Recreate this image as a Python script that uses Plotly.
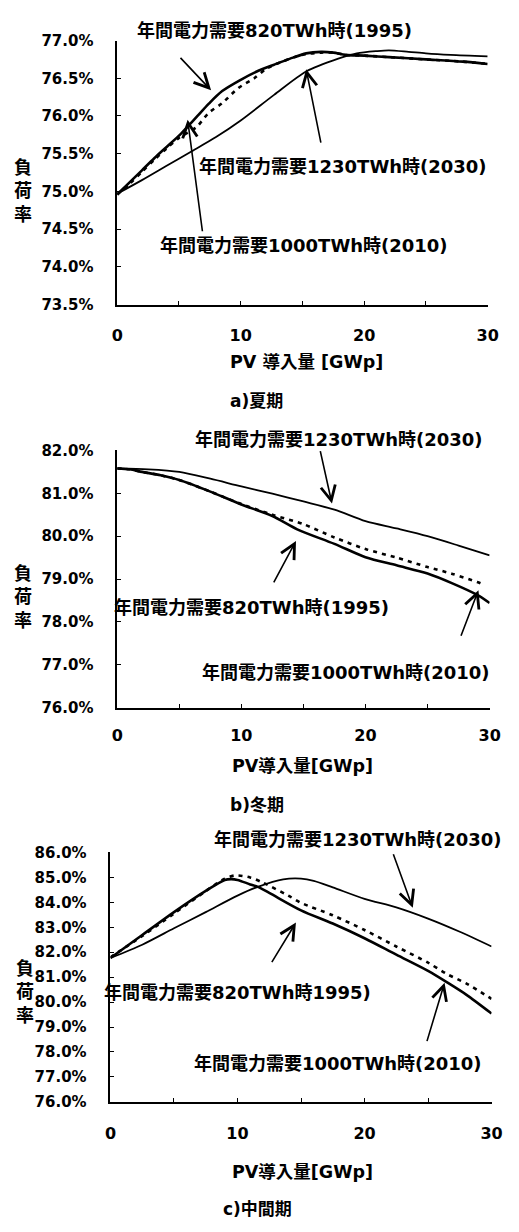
import plotly.graph_objects as go

W, H = 519, 1232

# ---- a) 夏期 (summer) ----
sum_x_1995 = [0, 1, 2, 3, 4, 5, 5.7, 6.5, 7.4, 8.5, 10, 11.3, 12.7, 14, 15.3, 16.5, 17.5, 18.5, 20, 22, 25, 28, 30]
sum_y_1995 = [74.96, 75.12, 75.28, 75.44, 75.59, 75.74, 75.86, 76.0, 76.16, 76.33, 76.48, 76.59, 76.68, 76.76, 76.83, 76.85, 76.84, 76.81, 76.8, 76.78, 76.75, 76.72, 76.69]
sum_x_2010 = [0, 1, 2, 3, 4, 5, 6.4, 7.4, 8.5, 9.8, 11.1, 12.1, 13.5, 14.5, 15.3, 16.5, 17.5, 18.5, 20, 22, 25, 28, 30]
sum_y_2010 = [74.96, 75.1, 75.26, 75.42, 75.57, 75.71, 75.85, 76.04, 76.17, 76.37, 76.5, 76.63, 76.73, 76.79, 76.82, 76.84, 76.84, 76.81, 76.8, 76.78, 76.75, 76.72, 76.69]
sum_x_2030 = [0, 2, 4, 5.9, 8, 10, 12.7, 15.3, 17.9, 19.4, 21, 22, 23.6, 25, 27, 30]
sum_y_2030 = [74.97, 75.15, 75.34, 75.52, 75.72, 75.94, 76.28, 76.59, 76.76, 76.83, 76.86, 76.87, 76.85, 76.83, 76.81, 76.79]

# ---- b) 冬期 (winter) ----
win_x_1995 = [0, 1, 2, 3.5, 5, 7.5, 10, 12.5, 14.5, 17.5, 20, 22.5, 25, 27, 29, 30]
win_y_1995 = [81.58, 81.56, 81.5, 81.42, 81.31, 81.04, 80.74, 80.47, 80.16, 79.82, 79.51, 79.32, 79.13, 78.9, 78.63, 78.44]
win_x_2010 = [0, 1, 2, 3.5, 5, 7.5, 10, 12.5, 15, 17.5, 20, 22.5, 25, 27, 29, 29.6]
win_y_2010 = [81.58, 81.56, 81.5, 81.42, 81.31, 81.04, 80.75, 80.5, 80.28, 79.97, 79.7, 79.5, 79.28, 79.12, 78.93, 78.86]
win_x_2030 = [0, 2.5, 5, 7.5, 10, 12.5, 15, 17.5, 20, 22.5, 25, 27.5, 30]
win_y_2030 = [81.58, 81.56, 81.5, 81.34, 81.16, 80.99, 80.81, 80.62, 80.35, 80.18, 80.0, 79.78, 79.55]

# ---- c) 中間期 (intermediate season) ----
mid_x_1995 = [0, 2.5, 5, 7.5, 9, 9.5, 10, 11, 11.6, 12.5, 15, 17.5, 20, 22.5, 25, 26.5, 28, 30]
mid_y_1995 = [81.77, 82.69, 83.61, 84.46, 84.9, 84.93, 84.9, 84.72, 84.62, 84.38, 83.68, 83.15, 82.56, 81.9, 81.25, 80.79, 80.3, 79.54]
mid_x_2010 = [0, 2.5, 5, 7.5, 9, 9.8, 11, 12, 14, 15, 17.5, 20, 22.5, 25, 26.5, 28, 30]
mid_y_2010 = [81.8, 82.65, 83.55, 84.45, 84.95, 85.08, 85.0, 84.79, 84.27, 83.98, 83.48, 82.89, 82.23, 81.58, 81.12, 80.75, 80.13]
mid_x_2030 = [0, 2.5, 5, 7.5, 10, 11.6, 13.6, 15, 16, 17.5, 20, 22.5, 25, 27.5, 30]
mid_y_2030 = [81.77, 82.3, 82.96, 83.61, 84.27, 84.62, 84.92, 84.95, 84.86, 84.6, 84.14, 83.8, 83.35, 82.82, 82.23]

lbl_1995 = "年間電力需要820TWh時(1995)"
lbl_2010 = "年間電力需要1000TWh時(2010)"
lbl_2030 = "年間電力需要1230TWh時(2030)"

FONT = "DejaVu Sans, Noto Sans CJK JP, sans-serif"

# pixel boxes of the three plot areas: (left, right, top, bottom)
boxes = [(115, 498, 32, 300), (115, 500, 448, 709), (108, 502, 856, 1109)]
yranges = [(73.5, 77.0, 0.5), (76.0, 82.0, 1.0), (76.0, 86.0, 1.0)]
xstandoff = [15, 12, 16]

series = [
    (sum_x_1995, sum_y_1995, sum_x_2010, sum_y_2010, sum_x_2030, sum_y_2030),
    (win_x_1995, win_y_1995, win_x_2010, win_y_2010, win_x_2030, win_y_2030),
    (mid_x_1995, mid_y_1995, mid_x_2010, mid_y_2010, mid_x_2030, mid_y_2030),
]

fig = go.Figure()

for i, (s, box, yr) in enumerate(zip(series, boxes, yranges)):
    n = "" if i == 0 else str(i + 1)
    xa, ya = "x" + n, "y" + n
    x95, y95, x10, y10, x30, y30 = s
    fig.add_trace(go.Scatter(x=x30, y=y30, mode="lines", xaxis=xa, yaxis=ya,
                             line=dict(color="black", width=1.8, shape="spline", smoothing=0.8),
                             showlegend=False))
    fig.add_trace(go.Scatter(x=x10, y=y10, mode="lines", xaxis=xa, yaxis=ya,
                             line=dict(color="black", width=2.6, dash="4px,5px", shape="spline", smoothing=0.8),
                             showlegend=False))
    fig.add_trace(go.Scatter(x=x95, y=y95, mode="lines", xaxis=xa, yaxis=ya,
                             line=dict(color="black", width=2.6, shape="spline", smoothing=0.8),
                             showlegend=False))

    l, r, t, b = box
    lo, hi, step = yr
    nt = int(round((hi - lo) / step))
    yvals = [round(lo + k * step, 2) for k in range(nt + 1)]
    axis_common = dict(showline=True, linecolor="black", linewidth=1.6, mirror=False,
                       showgrid=False, zeroline=False, ticks="inside", ticklen=4,
                       tickcolor="black", tickwidth=1.4)
    fig.update_layout(**{
        ("xaxis" + n): dict(domain=[l / W, r / W], range=[0, 30], anchor=ya,
                            tickvals=[0, 5, 10, 15, 20, 25, 30],
                            ticktext=["0", "", "10", "", "20", "", "30"],
                            ticklabelstandoff=xstandoff[i],
                            tickfont=dict(family=FONT, size=16, color="black", weight=700),
                            **axis_common),
        ("yaxis" + n): dict(domain=[1 - b / H, 1 - t / H], range=[lo, hi], anchor=xa,
                            tickvals=yvals, ticktext=[f"{v:.1f}%" for v in yvals],
                            ticklabelstandoff=19,
                            tickfont=dict(family=FONT, size=15, color="black", weight=700),
                            **axis_common),
    })

annotations = []


def text_at(txt, cx, cy, size=18, xanchor="center"):
    annotations.append(dict(text=txt, x=cx / W, y=1 - cy / H, xref="paper", yref="paper",
                            xanchor=xanchor, yanchor="middle", showarrow=False,
                            font=dict(family=FONT, size=size, color="black", weight=700)))


def arrow(xref, yref, hx, hy, ax, ay):
    annotations.append(dict(text="", x=hx, y=hy, xref=xref, yref=yref, ax=ax, ay=ay,
                            showarrow=True, arrowhead=5, arrowsize=1.8, arrowwidth=1.6,
                            arrowcolor="black", standoff=0, startstandoff=0))


# panel a
text_at(lbl_1995, 278, 22)
text_at(lbl_2030, 348, 160)
text_at(lbl_2010, 308, 240)
arrow("x", "y", 7.6, 76.34, -32, -34)
arrow("x", "y", 15.3, 76.62, 15, 75)
arrow("x", "y", 5.7, 75.95, 15, 113)
text_at("PV 導入量 [GWp]", 230, 358, size=17.5, xanchor="left")
text_at("a)夏期", 230, 398, size=17, xanchor="left")

# panel b
text_at(lbl_2030, 344, 437)
text_at(lbl_1995, 254, 607)
text_at(lbl_2010, 351, 673)
arrow("x2", "y2", 17.3, 80.76, -12, -54)
arrow("x2", "y2", 14.4, 79.89, -23, 43)
arrow("x2", "y2", 29.1, 78.74, -18, 47)
text_at("PV導入量[GWp]", 232, 768, size=17.5, xanchor="left")
text_at("b)冬期", 230, 808, size=17, xanchor="left")

# panel c
text_at(lbl_2030, 364, 843)
text_at("年間電力需要820TWh時1995)", 239, 998)
text_at(lbl_2010, 343, 1070)
arrow("x3", "y3", 23.8, 83.78, -20, -55)
arrow("x3", "y3", 14.6, 83.19, -25, 41)
arrow("x3", "y3", 26.3, 80.78, -18, 60)
text_at("PV導入量[GWp]", 232, 1180, size=17.5, xanchor="left")
text_at("c)中間期", 222, 1218, size=17, xanchor="left")

# vertical y-axis titles 負荷率
for cx, cy in ((18, 185), (18, 597), (20, 998)):
    text_at("負<br>荷<br>率", cx, cy, size=18)

fig.update_layout(width=W, height=H, margin=dict(l=0, r=0, t=0, b=0),
                  paper_bgcolor="white", plot_bgcolor="white",
                  annotations=annotations, showlegend=False)

fig.write_html("out.html")
